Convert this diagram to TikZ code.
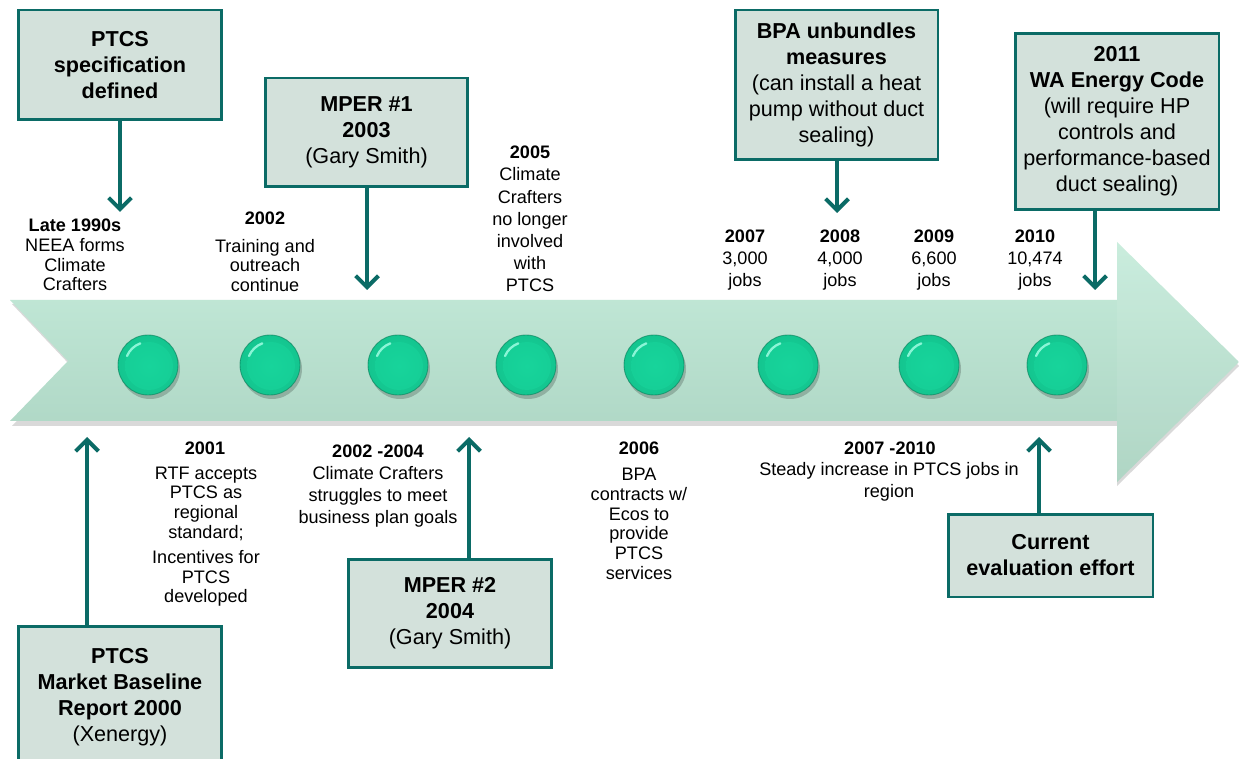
\documentclass[tikz,border=0pt]{standalone}
\usepackage{fontspec}
\setmainfont{Liberation Sans}
\usetikzlibrary{arrows.meta}
\definecolor{tealline}{HTML}{0B6B66}
\definecolor{boxfill}{HTML}{D3E1DB}
\definecolor{bandtop}{HTML}{C6ECDB}
\definecolor{bandbot}{HTML}{A9D2C0}
\definecolor{dotmain}{HTML}{17D49B}
\definecolor{dotedge}{HTML}{0B9E70}
\definecolor{dotlight}{HTML}{8AF5D6}
\begin{document}
\begin{tikzpicture}[x=0.02cm,y=-0.02cm]
\tikzset{
  lbl/.style={align=center, inner sep=0pt, font=\fontsize{10.3}{11.2}\selectfont},
  lblw/.style={align=center, inner sep=0pt, font=\fontsize{10.3}{12.6}\selectfont},
  yr/.style={inner sep=0pt, font=\fontsize{10.3}{12}\selectfont\bfseries},
  box/.style={draw=tealline, line width=1.7pt, fill=boxfill, align=center, inner sep=0pt, font=\fontsize{12.3}{14.8}\selectfont},
  boxb/.style={box, font=\fontsize{12.3}{14.8}\selectfont\bfseries},
  conn/.style={draw=tealline, line width=2.3pt, -{Straight Barb[length=6.5pt,width=13pt]}},
  dot/.pic={
    \fill[black, opacity=0.2] (2,4) circle (30);
    \shade[inner color=dotmain, outer color=dotmain!72!dotedge] (0,0) circle (30);
    \draw[dotedge!80!black, line width=0.5pt, opacity=0.6] (0,0) circle (30);
    \shade[inner color=dotmain, outer color=dotmain!90!dotedge] (1,1) circle (24);
    \draw[dotlight, line width=1.3pt, line cap=round] (-21,-9) arc (203:250:23);
  }
}
\useasboundingbox (0,0) rectangle (1239,759);
\clip (0,0) rectangle (1239,759);
\fill[white] (0,0) rectangle (1239,759);

% band shadow
\fill[black, opacity=0.15] (12,304) -- (1117,304) -- (1117,246) -- (1239,366) -- (1117,486) -- (1117,426) -- (12,426) -- (70,365) -- cycle;
% band
\shade[top color=bandtop, bottom color=bandbot]
  (10,300) -- (1117,300) -- (1117,242) -- (1239,362) -- (1117,482) -- (1117,421) -- (10,421) -- (68,361) -- cycle;
\fill[white, opacity=0.08] (1117,242) -- (1239,362) -- (1117,482) -- cycle;

% dots
\foreach \x/\n in {148/d1,270/d2,398/d3,526/d4,654/d5,788/d6,929/d7,1057/d8}
  \pic (\n) at (\x,365) {dot};

% boxes
\node[boxb, minimum width=4.08cm, minimum height=2.2cm] (b1) at (120,65) {PTCS\\specification\\defined};
\node[box, minimum width=4.06cm, minimum height=2.18cm] (b2) at (366.5,132.5) {\textbf{MPER \#1}\\\textbf{2003}\\(Gary Smith)};
\node[box, minimum width=4.06cm, minimum height=3.0cm] (b3) at (836.5,85) {\textbf{BPA unbundles}\\\textbf{measures}\\(can install a heat\\pump without duct\\sealing)};
\node[box, minimum width=4.08cm, minimum height=3.54cm] (b4) at (1117,121.5) {\textbf{2011}\\\textbf{WA Energy Code}\\(will require HP\\controls and\\performance-based\\duct sealing)};
\node[box, minimum width=4.08cm, minimum height=2.84cm] (b5) at (120,697) {\textbf{PTCS}\\\textbf{Market Baseline}\\\textbf{Report 2000}\\(Xenergy)};
\node[box, minimum width=4.08cm, minimum height=2.18cm] (b6) at (450,613.5) {\textbf{MPER \#2}\\\textbf{2004}\\(Gary Smith)};
\node[boxb, minimum width=4.1cm, minimum height=1.66cm] (b7) at (1050.5,555.5) {Current\\evaluation effort};

% connector ends
\coordinate (t1) at (120,212);
\coordinate (t2) at (367,290);
\coordinate (t3) at (837,213);
\coordinate (t4) at (1095,290);
\coordinate (t5) at (87,437);
\coordinate (t6) at (469,437);
\coordinate (t7) at (1039,437);
\draw[conn] (b1.south -| t1) -- (t1);
\draw[conn] (b2.south -| t2) -- (t2);
\draw[conn] (b3.south -| t3) -- (t3);
\draw[conn] (b4.south -| t4) -- (t4);
\draw[conn] (b5.north -| t5) -- (t5);
\draw[conn] (b6.north -| t6) -- (t6);
\draw[conn] (b7.north -| t7) -- (t7);

% upper labels
\node[lbl] (l1) at (75,255) {\textbf{Late 1990s}\\NEEA forms\\Climate\\Crafters};
\node[yr] (y2) at (265,218) {2002};
\node[lbl] (l2) at (265,265.5) {Training and\\outreach\\continue};
\node[lblw] (l5) at (530,219) {\textbf{2005}\\Climate\\Crafters\\no longer\\involved\\with\\PTCS};
\node[lblw] (l7) at (745,260) {\textbf{2007}\\3,000\\jobs};
\node[lblw] (l8) at (840,260) {\textbf{2008}\\4,000\\jobs};
\node[lblw] (l9) at (934,260) {\textbf{2009}\\6,600\\jobs};
\node[lblw] (l10) at (1035,260) {\textbf{2010}\\10,474\\jobs};

% lower labels
\node[yr] (y1) at (205,448) {2001};
\node[lbl] (l1a) at (206,503.5) {RTF accepts\\PTCS as\\regional\\standard;};
\node[lbl] (l1b) at (206,578.5) {Incentives for\\PTCS\\developed};
\node[yr] (y24) at (378,451) {2002 -2004};
\node[lblw] (l24) at (378,496.5) {Climate Crafters\\struggles to meet\\business plan goals};
\node[yr] (y6) at (639,448) {2006};
\node[lbl] (l6) at (639,524) {BPA\\contracts w/\\Ecos to\\provide\\PTCS\\services};
\node[yr] (y710) at (890,448) {2007 -2010};
\node[lblw] (l710) at (889,482) {Steady increase in PTCS jobs in\\region};
\end{tikzpicture}
\end{document}
